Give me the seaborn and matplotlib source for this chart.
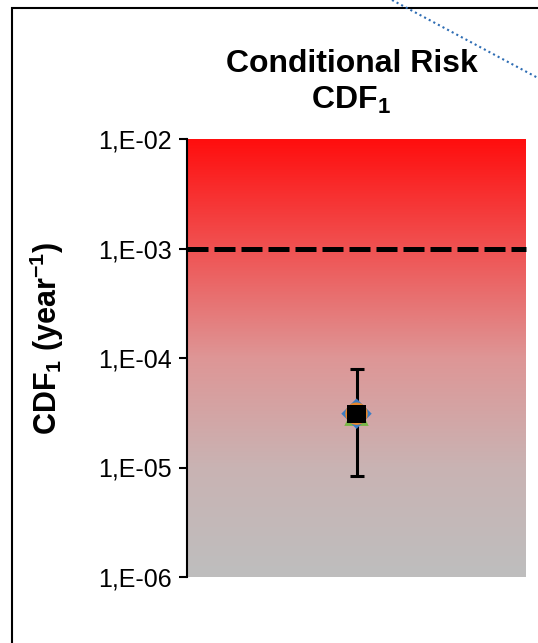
import numpy as np
import pandas as pd
import matplotlib
matplotlib.use("Agg")
import matplotlib.pyplot as plt
from matplotlib.colors import LinearSegmentedColormap
from matplotlib.lines import Line2D
from matplotlib.patches import Rectangle
import seaborn as sns

# ---- data ----
categories = ["CDF1"]
cdf_values = [3.1e-5]
err_low = [8.3e-6]
err_high = [8.0e-5]
limit_value = 1e-3
tick_values = [1e-6, 1e-5, 1e-4, 1e-3, 1e-2]
tick_labels = ["1,E-06", "1,E-05", "1,E-04", "1,E-03", "1,E-02"]

sns.set_theme(style="white")
plt.rcParams["font.family"] = ["Liberation Sans", "DejaVu Sans"]
plt.rcParams["mathtext.fontset"] = "custom"
plt.rcParams["mathtext.rm"] = "Liberation Sans"
plt.rcParams["mathtext.bf"] = "Liberation Sans:bold"
plt.rcParams["text.color"] = "black"
plt.rcParams["axes.labelcolor"] = "black"
plt.rcParams["ytick.color"] = "black"
plt.rcParams["ytick.labelcolor"] = "black"

fig = plt.figure(figsize=(5.38, 6.43), dpi=100)
fig.patch.set_facecolor("white")
ax = fig.add_axes([187/538, 66/643, 339/538, 438/643])

# gradient background
cmap = LinearSegmentedColormap.from_list(
    "rg", [(0.0, "#FF0E0E"), (0.25, "#F05252"), (0.5, "#DE9696"),
           (0.75, "#C9B3B3"), (1.0, "#BEBEBE")])
grad = np.linspace(0, 1, 256).reshape(-1, 1)
ax.imshow(grad, cmap=cmap, aspect="auto", extent=(0, 1, 0, 1),
          transform=ax.transAxes, zorder=0, interpolation="bicubic")

df = pd.DataFrame({"cat": [0], "value": cdf_values})

ax.set_yscale("log")
ax.set_ylim(1e-6, 1e-2)
ax.set_xlim(-0.5, 0.5)

ax.axhline(limit_value, color="black", lw=3.6, dashes=(4.2, 1.2), zorder=3,
           clip_on=False)

yerr = np.array([[cdf_values[0] - err_low[0]], [err_high[0] - cdf_values[0]]])
ax.errorbar(df["cat"], df["value"], yerr=yerr, fmt="none", ecolor="black",
            elinewidth=2.2, capsize=5, capthick=2.2, zorder=4)

sns.scatterplot(data=df, x="cat", y="value", marker="^", s=310,
                color="#7AB648", edgecolor="none", ax=ax, zorder=5)
sns.scatterplot(data=df, x="cat", y="value", marker="D", s=240,
                color="#3C7DC4", edgecolor="none", ax=ax, zorder=6)
sns.scatterplot(data=df, x="cat", y="value", marker="o", s=260,
                color="#E8872C", edgecolor="none", ax=ax, zorder=7)
sns.scatterplot(data=df, x="cat", y="value", marker="s", s=175,
                color="black", edgecolor="none", ax=ax, zorder=8)

ax.set_yticks(tick_values)
ax.set_yticklabels(tick_labels, fontsize=18)
ax.yaxis.set_minor_locator(matplotlib.ticker.NullLocator())
ax.set_xticks([])
ax.set_xlabel("")
ax.tick_params(axis="y", which="major", direction="out", length=6,
               width=1.5, color="black", pad=5, left=True)
for s in ["top", "right", "bottom"]:
    ax.spines[s].set_visible(False)
ax.spines["left"].set_color("black")
ax.spines["left"].set_linewidth(1.5)
ax.spines["left"].set_zorder(10)

ax.set_ylabel(r"CDF$_\mathbf{1}$ (year$^\mathbf{-1}$)", fontsize=22,
              fontweight="bold", va="center")
ax.yaxis.set_label_coords((47 - 187) / 339, 0.545)

ax.set_title("Conditional Risk\nCDF$_\\mathbf{1}$", fontsize=23,
             fontweight="bold", pad=22, linespacing=1.22, x=0.485)

# outer frame (partially visible)
fig.patches.append(Rectangle((12/538, -0.2), 1.5, 1.2 - 8/643,
                             transform=fig.transFigure, fill=False,
                             edgecolor="black", lw=1.5, zorder=20))
fig.lines.append(Line2D([392/538, 1.0], [1.0, 1 - 78/643],
                        transform=fig.transFigure, color="#2E6DB4",
                        lw=1.5, linestyle=(0, (1, 1.5)), zorder=21))

fig.savefig("out.png", dpi=100)
